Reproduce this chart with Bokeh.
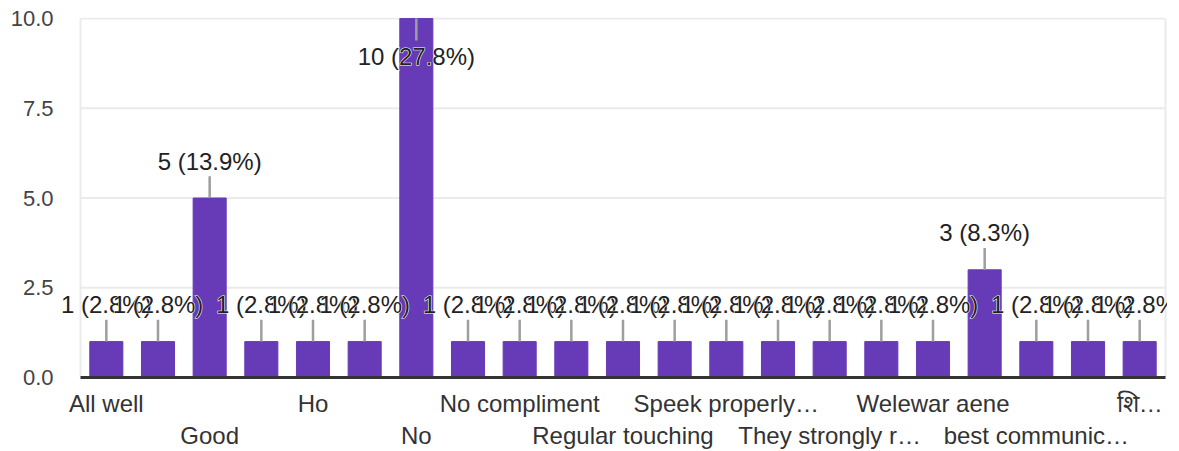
from bokeh.plotting import figure
from bokeh.models import ColumnDataSource, Label, FixedTicker, LinearAxis, Range1d
from bokeh.embed import file_html
from bokeh.resources import INLINE

# ---- data ----
categories = ["All well", "Better", "Good", "Good communication", "Ho", "Nice", "No",
              "No comment", "No compliment", "Nothing", "Regular touching", "Respect",
              "Speek properly…", "Talk nicely", "They strongly r…", "Very good",
              "Welewar aene", "Yes", "best communic…", "good", "शि…"]
counts = [1, 1, 5, 1, 1, 1, 10, 1, 1, 1, 1, 1, 1, 1, 1, 1, 1, 3, 1, 1, 1]
y_ticks = [0, 2.5, 5, 7.5, 10]
y_tick_labels = ["0.0", "2.5", "5.0", "7.5", "10.0"]

FONT = "Liberation Sans"
PURPLE = "#673ab7"
GRID = "#ebebeb"
YMAX = 10

n = len(categories)
positions = list(range(1, n + 1))
total = sum(counts)
labels = [f"{c} ({c / total * 100:.1f}%)" for c in counts]
flip = [c >= YMAX * 0.95 for c in counts]
stem_len = 0.61
stem_end = [c - stem_len if f else c + stem_len for c, f in zip(counts, flip)]
label_off = [-38 if f else 37 for f in flip]

# chart area spans 0.5 .. n+0.5; the frame is a bit wider so that the
# value labels are not cut on the left
lo, hi = 0.5, n + 0.5
x_range = Range1d(lo - 0.4645, hi + 0.0387)
y_range = Range1d(0, YMAX + 0.03)

src = ColumnDataSource(dict(x=positions, top=counts, stem=stem_end))

p = figure(width=1167, height=451, x_range=x_range, y_range=y_range,
           output_backend="svg", toolbar_location=None,
           min_border_left=56, min_border_right=0, min_border_top=17,
           min_border_bottom=74, background_fill_color="white")
p.outline_line_color = None
p.xgrid.visible = False
p.ygrid.visible = False

# chart-area grid lines and left/right borders
p.segment(x0=[lo] * len(y_ticks), x1=[hi] * len(y_ticks), y0=y_ticks, y1=y_ticks,
          line_color=GRID, line_width=2)
p.segment(x0=[lo, hi], x1=[lo, hi], y0=[0, 0], y1=[YMAX, YMAX],
          line_color=GRID, line_width=2)

p.vbar(x="x", top="top", width=0.64, color=PURPLE, source=src)
p.segment(x0="x", y0="top", x1="x", y1="stem", line_color="#9e9e9e",
          line_width=2.5, source=src)

# value labels: white halo then dark text, one bar after another
for xi, yi, txt, off in zip(positions, counts, labels, label_off):
    common = dict(x=xi, y=yi, text=txt, y_offset=off, text_align="center",
                  text_baseline="alphabetic", text_font=FONT,
                  text_font_size="24px")
    p.add_layout(Label(text_color="white", text_outline_color="white", **common))
    p.add_layout(Label(text_color="#222222", **common))

# y axis
p.yaxis.ticker = FixedTicker(ticks=y_ticks)
p.yaxis.major_label_overrides = {t: s for t, s in zip(y_ticks, y_tick_labels)}
p.yaxis.axis_line_color = None
p.yaxis.major_tick_line_color = None
p.yaxis.minor_tick_line_color = None
p.yaxis.major_tick_out = 0
p.yaxis.major_label_standoff = 3
p.yaxis.major_label_text_font = FONT
p.yaxis.major_label_text_font_size = "22px"
p.yaxis.major_label_text_color = "#444444"

# x axis, two staggered rows of category labels
row1 = positions[0::4]
row2 = positions[2::4]
xa = p.xaxis[0]
xa.bounds = (lo, hi)
xa.ticker = FixedTicker(ticks=row1)
xa.major_label_overrides = {i: categories[i - 1] for i in row1}
xa.axis_line_color = "#333333"
xa.axis_line_width = 3
xa.major_tick_line_color = None
xa.minor_tick_line_color = None
xa.major_tick_out = 0
xa.major_label_standoff = 12
xa.major_label_text_font = FONT
xa.major_label_text_font_size = "24px"
xa.major_label_text_color = "#333333"

xb = LinearAxis(ticker=FixedTicker(ticks=row2),
                major_label_overrides={i: categories[i - 1] for i in row2},
                axis_line_color=None, major_tick_line_color=None,
                minor_tick_line_color=None, major_tick_out=0,
                major_label_standoff=2, major_label_text_font=FONT,
                major_label_text_font_size="24px",
                major_label_text_color="#333333")
p.add_layout(xb, "below")

open("out.html", "w").write(file_html(p, INLINE))
